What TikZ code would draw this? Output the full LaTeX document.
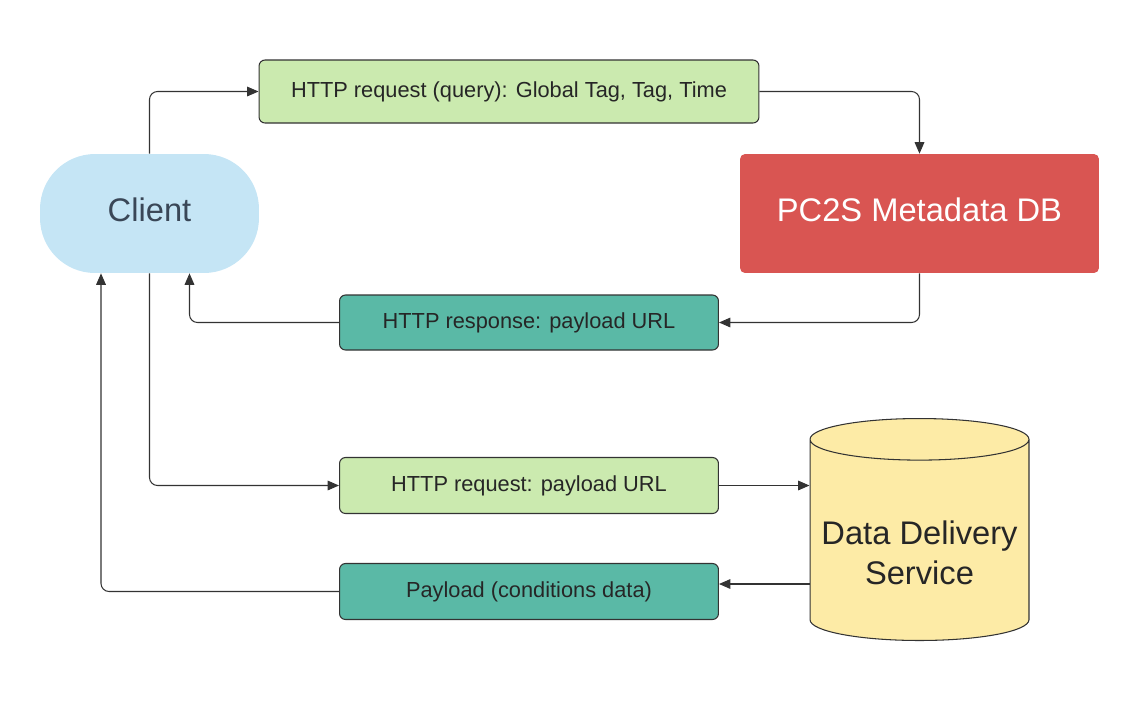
\documentclass[tikz,border=0pt]{standalone}
\usepackage{fontspec}
\setmainfont{Liberation Sans}
\usetikzlibrary{shapes.geometric,arrows.meta}

\definecolor{clientblue}{HTML}{C5E5F5}
\definecolor{clientink}{HTML}{3A4757}
\definecolor{reqgreen}{HTML}{CBEAAF}
\definecolor{respteal}{HTML}{5AB9A6}
\definecolor{dbred}{HTML}{D95552}
\definecolor{ddsyellow}{HTML}{FDEBA6}
\definecolor{inkgray}{HTML}{333333}

\begin{document}
\begin{tikzpicture}[x=0.02cm, y=-0.02cm,
  msg/.style={draw=inkgray, line width=0.6pt, rounded corners=0.12cm, align=center, minimum height=1.12cm, font=\fontsize{12.4}{15}\selectfont, text=black!85},
  big/.style={align=center, font=\fontsize{18.6}{22.7}\selectfont},
  arr/.style={draw=inkgray, line width=0.6pt, rounded corners=0.16cm, -{Triangle[length=6.5pt, width=5.5pt]}}
]
\useasboundingbox (0,0) rectangle (1140,708);
\node[big, fill=clientblue, rounded corners=1.1cm, minimum width=4.38cm, minimum height=2.38cm, text=clientink, text height=0.31cm, text depth=0cm] (client) at (149.5,213.5) {Client};
\node[big, fill=dbred, rounded corners=0.1cm, minimum width=7.18cm, minimum height=2.38cm, text=white, text height=0.31cm, text depth=0cm] (meta) at (919.5,213.5) {PC2S Metadata DB};
\node[big, draw=inkgray, line width=0.6pt, fill=ddsyellow, cylinder, shape border rotate=90, aspect=0.2, minimum width=4.38cm, minimum height=4.44cm, text=black!85, anchor=north] (dds) at (919.5,418) {\raisebox{-0.42cm}[0pt][0pt]{\begin{tabular}{@{}c@{}}Data Delivery\\Service\end{tabular}}};
% messages
\node[msg, fill=reqgreen, minimum width=10cm, minimum height=1.26cm] (query) at (509,91.5) {HTTP request (query): Global Tag, Tag, Time};
\node[msg, fill=respteal, minimum width=7.58cm, minimum height=1.1cm] (resp) at (529,322.5) {HTTP response: payload URL};
\node[msg, fill=reqgreen, minimum width=7.58cm] (req) at (529,485.5) {HTTP request: payload URL};
\node[msg, fill=respteal, minimum width=7.58cm] (payload) at (529,591.5) {Payload (conditions data)};
% flow
\draw[arr] (client.north) |- (query.west);
\draw[arr] (query.east) -| (meta.north);
\draw[arr] (meta.south) |- (resp.east);
\draw[arr] (resp.west) -| ([xshift=0.8cm]client.south);
\draw[arr] (client.south) |- (req.west);
\draw[arr] (req.east) -- (req.east -| dds.west);
\draw[arr] ([yshift=0.15cm]payload.east -| dds.west) -- ([yshift=0.15cm]payload.east);
\draw[arr] (payload.west) -| ([xshift=-0.97cm]client.south);
\end{tikzpicture}
\end{document}
